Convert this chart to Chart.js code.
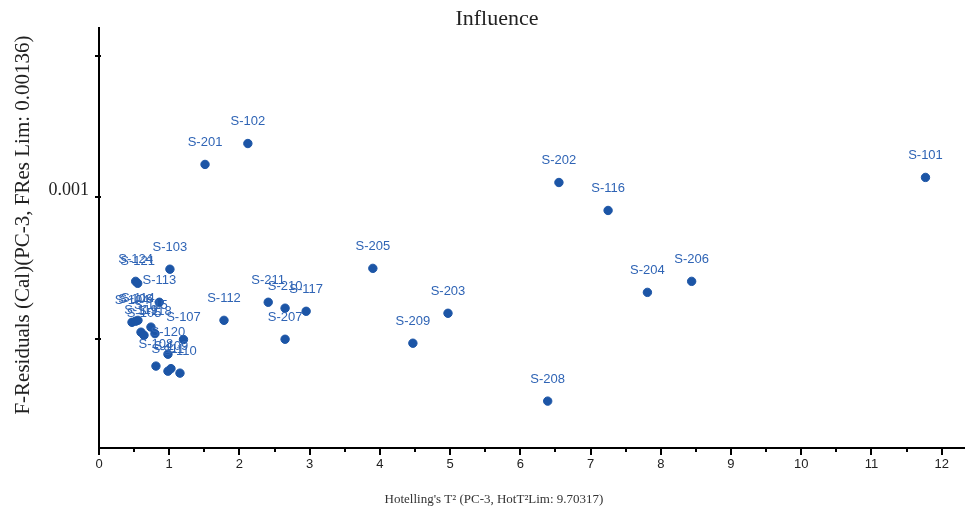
<!DOCTYPE html>
<html>
<head>
<meta charset="utf-8">
<script src="https://cdn.jsdelivr.net/npm/chart.js@4"></script>
<style>
html,body{margin:0;padding:0;background:#fff;}
#wrap{width:970px;height:514px;}
</style>
</head>
<body>
<div id="wrap"><canvas id="c" width="970" height="514"></canvas></div>
<script>
// sample names, Hotelling T2 (x) and F-residuals (y)
var samples = ['S-101','S-102','S-201','S-202','S-116','S-205','S-204','S-206','S-203','S-209','S-208',
  'S-112','S-211','S-210','S-117','S-207','S-103',
  'S-124','S-121','S-113','S-104','S-106','S-114','S-115','S-119','S-105','S-118','S-107',
  'S-120','S-108','S-111','S-109','S-110'];
var hotT2 = [11.77,2.12,1.51,6.55,7.25,3.90,7.81,8.44,4.97,4.47,6.39,
  1.78,2.41,2.65,2.95,2.65,1.01,
  0.522,0.551,0.859,0.470,0.522,0.555,0.740,0.598,0.641,0.797,1.203,
  0.982,0.811,0.982,1.025,1.153];
var fRes = [0.001071,0.001191,0.001117,0.001053,0.000954,0.000749,0.000664,0.000703,0.000590,0.000484,0.000279,
  0.000565,0.000629,0.000608,0.000597,0.000498,0.000746,
  0.000703,0.000696,0.000629,0.000558,0.000562,0.000565,0.000541,0.000523,0.000512,0.000518,0.000497,
  0.000445,0.000403,0.000385,0.000394,0.000378];
var yTicks = [0.0005,0.001,0.0015];
var yTickLabels = ['','0.001',''];

var pts = hotT2.map(function(x,i){ return {x:x, y:fRes[i]}; });
var serif = '"Liberation Serif", "Times New Roman", serif';

// point labels, axis tick marks and titles
var extras = {
  id:'extras',
  afterDatasetsDraw:function(chart){
    var c = chart.ctx, meta = chart.getDatasetMeta(0);
    c.save();
    c.font = '13px "Liberation Sans", Arial, sans-serif';
    c.fillStyle = '#2f64b5';
    c.textAlign = 'center'; c.textBaseline = 'middle';
    meta.data.forEach(function(el,i){ c.fillText(samples[i], el.x, el.y-22); });
    c.restore();
  },
  afterDraw:function(chart){
    var c = chart.ctx, xs = chart.scales.x, ys = chart.scales.y;
    c.save();
    c.strokeStyle = '#000'; c.lineWidth = 2;
    for(var v=0; v<=xs.max; v+=0.5){
      var px = Math.round(xs.getPixelForValue(v));
      var len = (v%1===0) ? 7 : 4;
      c.beginPath(); c.moveTo(px, xs.top); c.lineTo(px, xs.top+len); c.stroke();
    }
    yTicks.forEach(function(t){
      var py = Math.round(ys.getPixelForValue(t));
      c.beginPath(); c.moveTo(ys.right-4, py); c.lineTo(ys.right+2, py); c.stroke();
    });
    // titles
    c.fillStyle = '#222';
    c.textAlign = 'center'; c.textBaseline = 'middle';
    c.font = '22px ' + serif;
    c.fillText('Influence', 497, 19);
    c.font = '13px ' + serif;
    c.fillStyle = '#333';
    c.fillText("Hotelling's T\u00b2 (PC-3, HotT\u00b2Lim: 9.70317)", 494, 500);
    c.fillStyle = '#222';
    c.translate(23, 225);
    c.rotate(-Math.PI/2);
    c.font = '21px ' + serif;
    c.fillText('F-Residuals (Cal)(PC-3, FRes Lim: 0.00136)', 0, 0);
    c.restore();
  }
};

new Chart(document.getElementById('c'), {
  type:'scatter',
  data:{ datasets:[{ data:pts, backgroundColor:'#1c55a6', borderColor:'#1c55a6', pointRadius:4.2, pointHoverRadius:4.2 }]},
  options:{
    responsive:false, animation:false,
    layout:{ padding:{ left:0, right:0, top:28, bottom:0 } },
    plugins:{ legend:{display:false}, tooltip:{enabled:false}, title:{display:false} },
    scales:{
      x:{ type:'linear', min:0, max:12.33,
        afterFit:function(s){ s.height = 66; },
        afterBuildTicks:function(s){ var t=[]; for(var i=0;i<=12;i++) t.push({value:i}); s.ticks=t; },
        grid:{ display:false, drawTicks:false },
        border:{ display:true, color:'#000', width:2 },
        ticks:{ padding:9, color:'#222', maxRotation:0, autoSkip:false,
          font:{ family:'"Liberation Sans", Arial, sans-serif', size:13 } }
      },
      y:{ type:'linear', min:0.000113, max:0.0016,
        afterFit:function(s){ s.width = 99; },
        afterBuildTicks:function(s){ s.ticks = yTicks.map(function(v){ return {value:v}; }); },
        grid:{ display:false, drawTicks:false },
        border:{ display:true, color:'#000', width:2 },
        ticks:{ padding:10, color:'#222', autoSkip:false, labelOffset:-7,
          callback:function(v){ var i=yTicks.indexOf(v); return i>=0 ? yTickLabels[i] : ''; },
          font:{ family:serif, size:18 } }
      }
    }
  },
  plugins:[extras]
});
</script>
</body>
</html>
